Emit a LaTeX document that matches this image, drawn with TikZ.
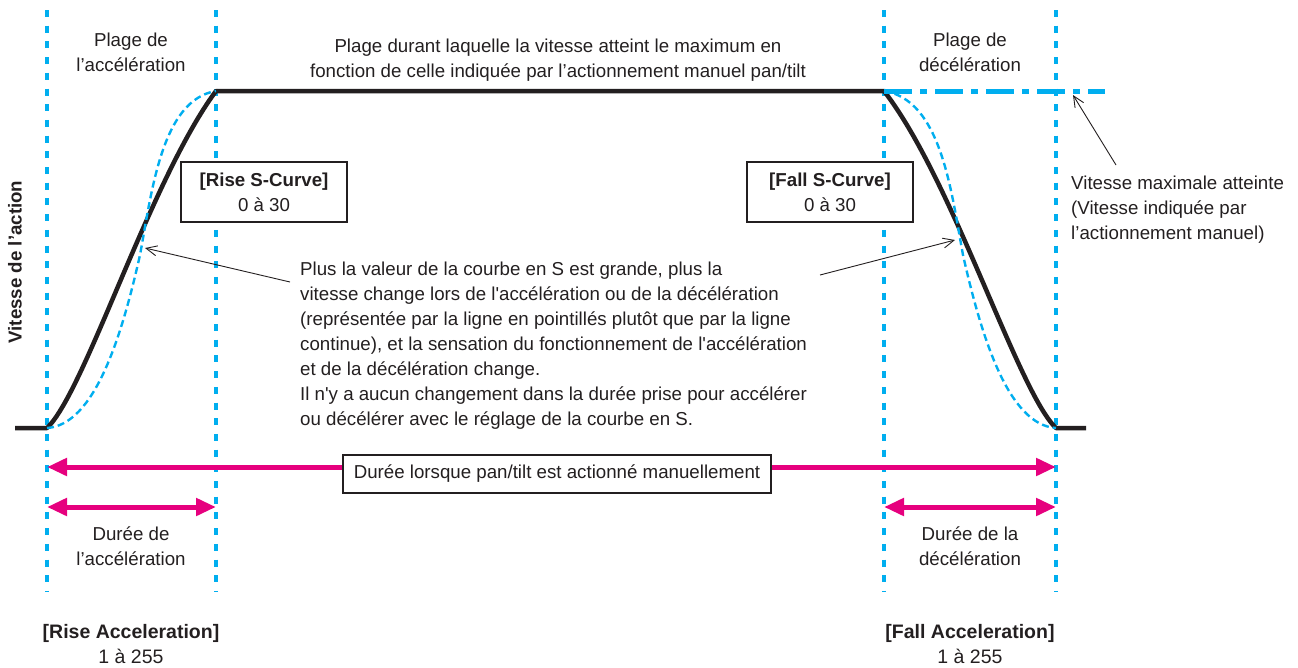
\documentclass[tikz,border=0pt]{standalone}
\usepackage{fontspec}
\setmainfont{Liberation Sans}
\usetikzlibrary{arrows.meta, positioning}
\definecolor{cyanline}{RGB}{0,174,239}
\definecolor{magline}{RGB}{230,0,126}
\definecolor{inkgray}{RGB}{35,31,32}

\begin{document}
\begin{tikzpicture}[x=1pt, y=-1pt,
  txt/.style={align=center, inner sep=0pt, text=inkgray, font=\fontsize{18.7}{25}\selectfont},
  setbox/.style={txt, draw=inkgray, line width=1.1pt, fill=white, minimum width=166pt, minimum height=60pt},
  guide/.style={cyanline, line width=4pt, dash pattern=on 7pt off 8.7pt},
  scurve/.style={cyanline, line width=2.4pt, dash pattern=on 7pt off 4pt},
  speed/.style={inkgray, line width=4.5pt, line join=round},
  span/.style={magline, line width=5pt, {Triangle[length=20pt,width=17pt]}-{Triangle[length=20pt,width=17pt]}},
  pointer/.style={inkgray, line width=0.9pt, -{Straight Barb[length=11pt,width=10pt]}}]
\useasboundingbox (0,0) rectangle (1298,667);

% limits of the ranges
\foreach \x/\name in {47/a, 216/b, 884/c, 1056/d}
  \draw[guide] (\x,10) coordinate (top\name) -- (\x,592) coordinate (bot\name);

% speed profile
\coordinate (startL) at (47,428);
\coordinate (maxL) at (216,91);
\coordinate (maxR) at (884,91);
\coordinate (endR) at (1056,428);
\draw[speed] (15,428) -- (startL) .. controls (85,392) and (150,180) .. (maxL)
  -- (maxR) .. controls (953,180) and (1018,392) .. (endR) -- (1086,428);
\draw[scurve] (startL) .. controls (95,425) and (122,335) .. (140,255)
  .. controls (152,190) and (162,100) .. (maxL);
\draw[scurve] (maxR) .. controls (941,100) and (951,190) .. (963,255)
  .. controls (981,335) and (1008,425) .. (endR);
\coordinate (maxEnd) at (1105,91);
\draw[cyanline, line width=5pt, dash pattern=on 28pt off 8pt on 7pt off 8pt] (maxR) -- (maxEnd);

% labels
\node[txt] (accRange) at (131,52) {Plage de\\l’accélération};
\node[txt] (decRange) at (970,52) {Plage de\\décélération};
\node[txt] (maxRange) at (558,60) {Plage durant laquelle la vitesse atteint le maximum en\\fonction de celle indiquée par l’actionnement manuel pan/tilt};
\node[txt, font=\fontsize{18.7}{25}\selectfont\bfseries, rotate=90] (axis) at (15,262) {Vitesse de l’action};

\node[setbox] (riseS) at (264,192) {\textbf{[Rise S-Curve]}\\0 à 30};
\node[setbox] (fallS) at (830,192) {\textbf{[Fall S-Curve]}\\0 à 30};

\node[txt, align=left, anchor=north west] (desc) at (300,262) {Plus la valeur de la courbe en S est grande, plus la\\
vitesse change lors de l\textquotesingle accélération ou de la décélération\\
(représentée par la ligne en pointillés plutôt que par la ligne\\
continue), et la sensation du fonctionnement de l\textquotesingle accélération\\
et de la décélération change.\\
Il n\textquotesingle y a aucun changement dans la durée prise pour accélérer\\
ou décélérer avec le réglage de la courbe en S.};

\node[txt, align=left, anchor=north west] (maxNote) at (1071,176) {Vitesse maximale atteinte\\(Vitesse indiquée par\\l’actionnement manuel)};

\coordinate (descL) at (290,282);
\coordinate (riseP) at (145,248);
\coordinate (descR) at (820,275);
\coordinate (fallP) at (955,240);
\coordinate (noteP) at (1116,165);
\coordinate (maxP) at (1073,95);
\draw[pointer] (descL) -- (riseP);
\draw[pointer] (descR) -- (fallP);
\draw[pointer] (noteP) -- (maxP);

% durations
\draw[span] (47,467) coordinate (spanL) -- (1056,467) coordinate (spanR);
\node[txt, draw=inkgray, line width=1.1pt, fill=white, minimum width=428pt, minimum height=38pt] (manual) at (557,474) {Durée lorsque pan/tilt est actionné manuellement};
\draw[span] (47,507) coordinate (accL) -- (216,507) coordinate (accR);
\draw[span] (884,507) coordinate (decL) -- (1056,507) coordinate (decR);
\node[txt] (accTime) at (131,546) {Durée de\\l’accélération};
\node[txt] (decTime) at (970,546) {Durée de la\\décélération};

\node[txt, font=\fontsize{19.5}{25}\selectfont] (riseAcc) at (131,644) {\textbf{[Rise Acceleration]}\\1 à 255};
\node[txt, font=\fontsize{19.5}{25}\selectfont] (fallAcc) at (970,644) {\textbf{[Fall Acceleration]}\\1 à 255};
\end{tikzpicture}
\end{document}
